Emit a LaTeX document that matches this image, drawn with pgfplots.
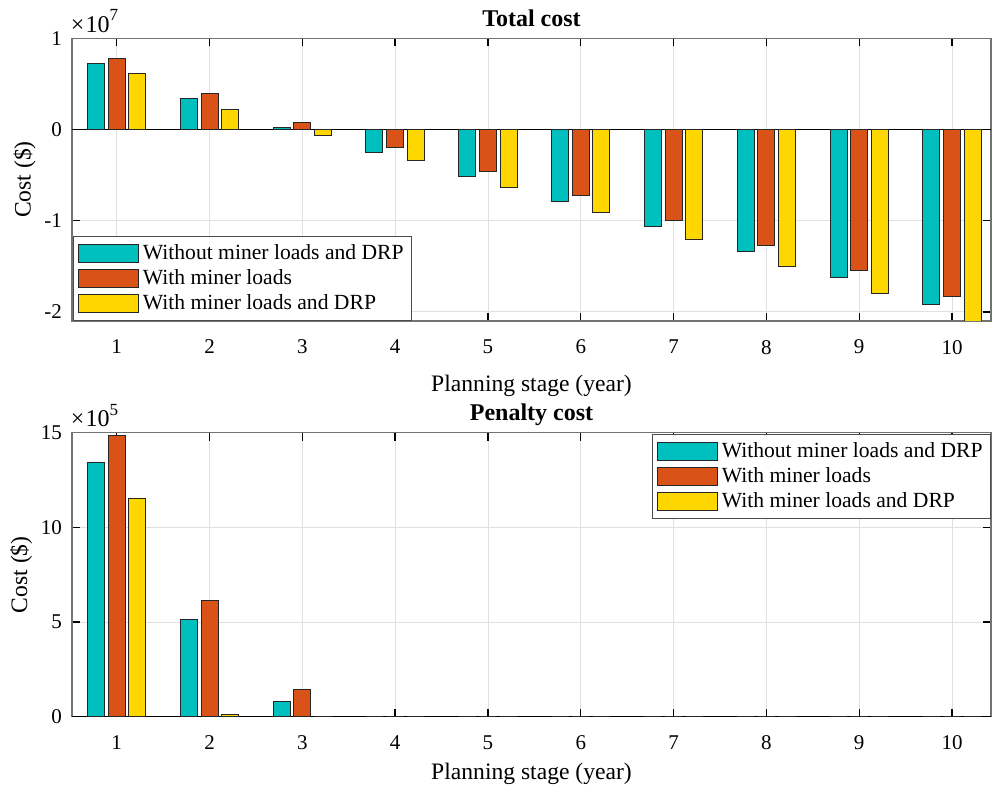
\documentclass[border=0pt]{standalone}
\usepackage{pgfplots}
\usepackage{pgfplotstable}
\pgfplotsset{compat=1.18}
\usepackage{fontspec}
\setmainfont{Liberation Serif}

\definecolor{cA}{RGB}{0,191,191}
\definecolor{cB}{RGB}{217,83,25}
\definecolor{cC}{RGB}{255,215,0}

% stage, without miner loads and DRP, with miner loads, with miner loads and DRP
\pgfplotstableread{
stage  noml     ml       mldrp
1      7.27e6   7.82e6   6.11e6
2      3.45e6   3.96e6   2.15e6
3      0.25e6   0.80e6  -0.62e6
4     -2.51e6  -2.00e6  -3.35e6
5     -5.16e6  -4.62e6  -6.36e6
6     -7.89e6  -7.27e6  -9.13e6
7    -10.62e6  -9.96e6 -12.07e6
8    -13.38e6 -12.69e6 -14.98e6
9    -16.22e6 -15.45e6 -17.96e6
10   -19.16e6 -18.36e6 -21.20e6
}\totalcost

\pgfplotstableread{
stage  noml     ml       mldrp
1      13.42e5  14.86e5  11.51e5
2      5.11e5   6.16e5   0.12e5
3      0.81e5   1.44e5   0
4      0        0        0
5      0        0        0
6      0        0        0
7      0        0        0
8      0        0        0
9      0        0        0
10     0        0        0
}\penaltycost

\pgfplotsset{
  costbase/.style={
    ybar, scale only axis,
    width=459.5pt,
    xmin=0.518, xmax=10.42,
    xtick={1,...,10},
    bar width=0.183,
    grid=major,
    major grid style={black!12, line width=0.4pt},
    axis line style={black!55, line width=0.6pt},
    tick style={black, line width=0.7pt},
    major tick length=4pt,
    tick align=inside,
    tick label style={font=\fontsize{10.5}{12}\selectfont},
    xticklabel style={yshift=-6pt},
    yticklabel style={xshift=-1.5pt},
    label style={font=\fontsize{11.8}{13}\selectfont},
    ylabel shift=-2.5pt,
    title style={font=\bfseries\fontsize{12}{13}\selectfont, anchor=base, yshift=-0.3pt},
    /pgf/number format/assume math mode=true,
    xlabel={Planning stage (year)},
    ylabel={Cost (\$)},
    extra y ticks={0}, extra y tick labels={},
    extra y tick style={major grid style={black, line width=0.6pt}, major tick length=0pt},
    every y tick scale label/.style={at={(rel axis cs:0,1)}, anchor=base west, inner sep=0pt, yshift=3pt,
      xshift=0.8pt, font=\fontsize{12}{13}\selectfont},
    ytick scale label code/.code={×\kern0.5pt10\raisebox{1.05ex}{\fontsize{8.5}{9}\selectfont ##1}},
    legend cell align=left,
    legend style={font=\fontsize{10.8}{12}\selectfont, draw=black!70, line width=0.5pt,
      row sep=-0.5pt, inner sep=2pt},
    legend image code/.code={\draw[##1] (0pt,-4.7pt) rectangle (30pt,4.7pt);},
  },
  barA/.style={fill=cA, draw=black!85, line width=0.5pt, bar shift=-0.223},
  barB/.style={fill=cB, draw=black!85, line width=0.5pt, bar shift=0},
  barC/.style={fill=cC, draw=black!85, line width=0.5pt, bar shift=0.223},
}

\begin{document}
\begin{tikzpicture}
% upper panel: total cost
\begin{axis}[costbase,
  at={(0pt,197.85pt)}, anchor=south west,
  height=141.35pt,
  ymin=-2.1e7, ymax=1e7,
  ytick={-2e7,-1e7,0,1e7},
  scaled y ticks=base 10:-7,
  xlabel style={yshift=-3.5pt},
  title={Total cost},
  legend style={at={(rel axis cs:0,0)}, anchor=south west, xshift=0.7pt},
]
\addplot[barA] table[x=stage, y=noml] {\totalcost};
\addplot[barB] table[x=stage, y=ml] {\totalcost};
\addplot[barC] table[x=stage, y=mldrp] {\totalcost};
\legend{Without miner loads and DRP, With miner loads, With miner loads and DRP}
\end{axis}

% lower panel: penalty cost
\begin{axis}[costbase,
  at={(0pt,0pt)}, anchor=south west,
  height=142pt,
  ymin=0, ymax=15e5,
  ytick={0,5e5,10e5,15e5},
  scaled y ticks=base 10:-5,
  xlabel style={yshift=0.5pt},
  title={Penalty cost},
  title style={yshift=0.6pt},
  legend style={at={(rel axis cs:1,1)}, anchor=north east, yshift=-0.7pt},
]
\addplot[barA] table[x=stage, y=noml] {\penaltycost};
\addplot[barB] table[x=stage, y=ml] {\penaltycost};
\addplot[barC] table[x=stage, y=mldrp] {\penaltycost};
\legend{Without miner loads and DRP, With miner loads, With miner loads and DRP}
\end{axis}

\pgfresetboundingbox
\useasboundingbox (-36pt,-35.15pt) rectangle (461pt,358.35pt);
\end{tikzpicture}
\end{document}
